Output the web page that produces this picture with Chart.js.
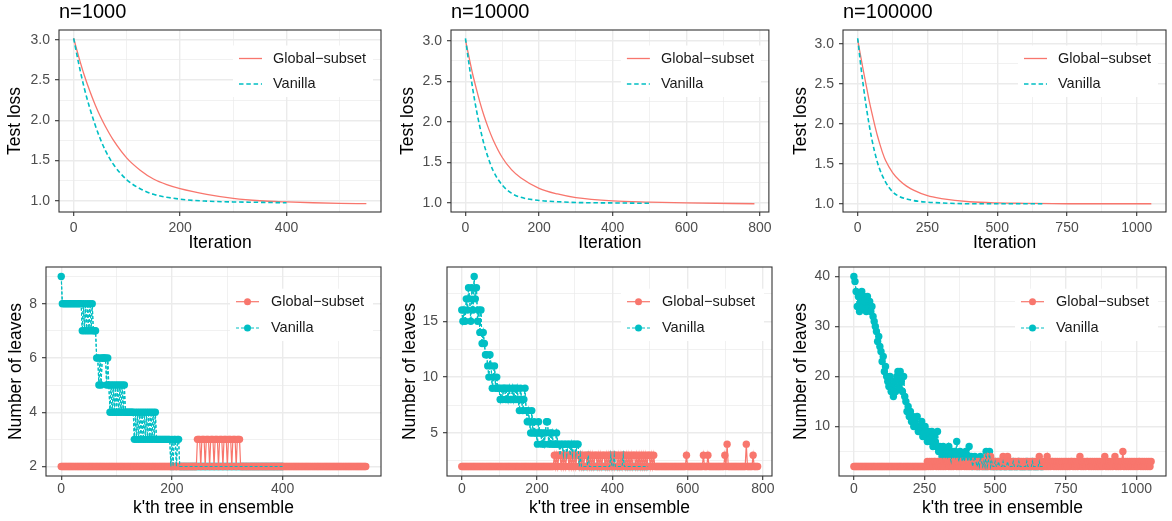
<!DOCTYPE html>
<html lang="en">
<head>
<meta charset="UTF-8" />
<title>Global-subset vs Vanilla</title>
<script src="https://cdn.jsdelivr.net/npm/chart.js"></script>
<style>
  html, body { margin: 0; padding: 0; background: #fff; overflow: hidden; }
  #fig { position: relative; width: 1172px; height: 521px; }
  #fig canvas { position: absolute; }
</style>
</head>
<body>
<div id="fig">
  <canvas id="loss1000"></canvas>
  <canvas id="loss10000"></canvas>
  <canvas id="loss100000"></canvas>
  <canvas id="leaves1000"></canvas>
  <canvas id="leaves10000"></canvas>
  <canvas id="leaves100000"></canvas>
</div>
<script>
const SERIES = ["Global\u2212subset", "Vanilla"];
const TITLES = ["n=1000", "n=10000", "n=100000"];

// test loss (iteration -> loss)
const lossIter1000G = [0, 10, 20, 30, 40, 50, 60, 75, 100, 125, 150, 175, 200, 250, 300, 350, 400, 450, 500, 550];
const loss1000G = [3.02, 2.78, 2.56, 2.37, 2.20, 2.05, 1.92, 1.75, 1.53, 1.38, 1.27, 1.20, 1.15, 1.08, 1.03, 1.0, 0.985, 0.975, 0.968, 0.963];
const lossIter1000V = [0, 10, 20, 30, 40, 50, 60, 75, 100, 125, 150, 200, 250, 300, 350, 400];
const loss1000V = [3.02, 2.69, 2.40, 2.16, 1.95, 1.77, 1.62, 1.45, 1.26, 1.15, 1.08, 1.02, 0.995, 0.985, 0.98, 0.975];

const lossIter10000G = [0, 10, 20, 30, 40, 50, 60, 75, 100, 125, 150, 200, 250, 300, 400, 500, 600, 785];
const loss10000G = [3.01, 2.79, 2.58, 2.40, 2.23, 2.08, 1.95, 1.78, 1.56, 1.41, 1.31, 1.18, 1.11, 1.065, 1.025, 1.01, 1.0, 0.99];
const lossIter10000V = [0, 10, 20, 30, 40, 50, 60, 75, 100, 125, 150, 200, 250, 300, 400, 500];
const loss10000V = [3.03, 2.70, 2.40, 2.14, 1.92, 1.73, 1.58, 1.40, 1.22, 1.12, 1.07, 1.03, 1.015, 1.005, 1.0, 0.995];

const lossIter100000G = [0, 10, 20, 30, 40, 50, 60, 70, 80, 90, 100, 125, 150, 175, 200, 250, 300, 400, 500, 600, 750, 1052];
const loss100000G = [3.05, 2.86, 2.67, 2.49, 2.31, 2.15, 2.00, 1.86, 1.74, 1.63, 1.54, 1.39, 1.29, 1.22, 1.17, 1.10, 1.065, 1.025, 1.01, 1.005, 1.0, 1.0];
const lossIter100000V = [0, 10, 20, 30, 40, 50, 60, 75, 100, 125, 150, 200, 250, 300, 400, 665];
const loss100000V = [3.07, 2.76, 2.48, 2.23, 2.01, 1.82, 1.66, 1.47, 1.27, 1.15, 1.09, 1.04, 1.02, 1.01, 1.0, 1.0];

// number of leaves per tree, sampled every `step` trees (bottom row)
const leafStep1000 = 2;
const leaves1000G = `
2222222222 2222222222 2222222222 2222222222 2222222222 2222222222
2222222222 2222222222 2222222222 2222222222 2222222222 2222222222 222
3332333233 3233323332 3332333233 3233323332
2222222222 2222222222 2222222222 2222222222 2222222222 2222222222
2222222222 2222222222 2222222222 2222222222 2222222222 222`;
const leaves1000V = `
9 8888888888 88888888 7878787878 777 665656666565 4545454545454 54 4444444
3434343434 3434343434 3333333333 33 323233233
2222222222 2222222222 2222222222 2222222222 2222222222 2222222222
2222222222 2222222222 2222222222 2222`;

const leafStep10000 = 3;
const leaves10000G = `
2222222222 2222222222 2222222222 2222222222 2222222222 2222222222 2222222222 2222222222 22
3232332323 2332323232 3323232332 3232323323 2323323232 3232332323 2332323232 3323232323 232332323
2222222222 2222222222 2222222232 2222222222 2223222322 2222222222 2232422222 2222222222 2422222322 22`;
const leaves10000V = [
  16, 15, 16, 15, 17, 16, 18, 17, 15, 18,
  16, 19, 17, 18, 15, 16, 14, 16, 13, 14,
  13, 12, 12, 11, 10, 12, 11, 9, 10, 11,
  9, 10, 9, 9, 8, 9, 8, 9, 9, 8,
  9, 8, 9, 8, 8, 9, 8, 9, 8, 9,
  8, 7, 9, 8, 7, 8, 9, 7, 6, 7,
  6, 5, 7, 5, 6, 5, 5, 4, 6, 5,
  5, 4, 5, 4, 5, 6, 6, 4, 5, 4,
  5, 4, 4, 4, 5, 4, 4, 3, 4, 4,
  3, 4, 4, 3, 4, 4, 3, 4, 3, 4,
  4, 3, 4, 4, 2, 3, 2, 2, 2, 2,
  2, 2, 3, 2, 2, 2, 2, 2, 2, 2,
  2, 2, 2, 2, 2, 2, 2, 2, 2, 2,
  2, 2, 3, 2, 2, 3, 2, 2, 2, 2,
  2, 2, 2, 3, 2, 2, 2, 2, 2, 2,
  2, 2, 2, 2, 2, 2, 2, 2, 2, 2,
  2, 2, 2, 2, 2, 2
];

const leafStep100000 = 4;
const leaves100000G = `
2222222222 2222222222 2222222222 2222222222 2222222222 2222222222 22222
3232323323 2323232332 3232332323 2332323232 3323232323 2324234232 3232323423 2432323232
3323232323 2323232324 3232324232 3323232323 2323232332 3232342323 2332323232 3232323423
2323234232 3235232323 2323232332 323232323`;
const leaves100000V = [
  40, 39, 37, 34, 36, 33, 35, 37, 34, 36,
  35, 33, 36, 34, 35, 33, 34, 32, 31, 30,
  29, 27, 28, 26, 25, 23, 24, 21, 22, 20,
  19, 18, 20, 17, 18, 16, 19, 17, 20, 21,
  18, 21, 19, 17, 20, 16, 15, 13, 14, 12,
  13, 11, 12, 10, 11, 10, 12, 9, 10, 9,
  11, 8, 9, 10, 8, 7, 9, 8, 7, 9,
  6, 8, 7, 6, 9, 5, 6, 5, 4, 6,
  5, 4, 5, 4, 6, 4, 3, 5, 4, 5,
  4, 7, 4, 3, 5, 4, 3, 4, 3, 5,
  4, 3, 6, 3, 4, 2, 3, 4, 3, 2,
  3, 2, 4, 3, 2, 3, 2, 5, 2, 3,
  5, 2, 3, 2, 2, 3, 2, 2, 3, 2,
  2, 2, 3, 2, 2, 2, 3, 2, 2, 2,
  2, 3, 2, 2, 2, 2, 3, 2, 2, 2,
  2, 2, 2, 3, 2, 2, 2, 2, 3, 2,
  2, 2, 2, 2, 3, 2, 2, 2
];

// axis breaks (all = grid lines, major = labelled)
const xTicks1000 = [0, 100, 200, 300, 400, 500], xMajor1000 = [0, 200, 400];
const xTicks10000 = [0, 100, 200, 300, 400, 500, 600, 700, 800], xMajor10000 = [0, 200, 400, 600, 800];
const xTicks100000 = [0, 125, 250, 375, 500, 625, 750, 875, 1000], xMajor100000 = [0, 250, 500, 750, 1000];
const yTicksLoss = [1, 1.25, 1.5, 1.75, 2, 2.25, 2.5, 2.75, 3], yMajorLoss = [1, 1.5, 2, 2.5, 3];
const yTicksLeaves1000 = [2, 3, 4, 5, 6, 7, 8, 9], yMajorLeaves1000 = [2, 4, 6, 8];
const yTicksLeaves10000 = [2.5, 5, 7.5, 10, 12.5, 15, 17.5], yMajorLeaves10000 = [5, 10, 15];
const yTicksLeaves100000 = [5, 10, 15, 20, 25, 30, 35, 40], yMajorLeaves100000 = [10, 20, 30, 40];

const RED = "#F8766D", TEAL = "#00BFC4";
const FONT = "'Liberation Sans', Arial, Helvetica, sans-serif";

const digits = s => s.replace(/\s+/g, "").split("").map(Number);
const pts = (xs, ys) => ys.map((y, i) => ({ x: xs[i], y }));
const stepPts = (vals, step) => vals.map((y, i) => ({ x: i * step, y }));

// panel border, inside legend and panel title
const ggPanel = {
  id: "ggPanel",
  afterDraw(chart, args, o) {
    const { ctx, chartArea: a } = chart;
    const L = o.legend;
    ctx.save();
    ctx.fillStyle = "#fff";
    ctx.fillRect(a.right - L.boxFrom, a.top + L.rows[0] - 13, L.boxFrom - L.boxTo, L.rows[1] - L.rows[0] + 26);
    o.items.forEach((it, k) => {
      const y = a.top + L.rows[k];
      ctx.strokeStyle = it.color;
      ctx.lineWidth = it.width;
      ctx.setLineDash(it.dash);
      ctx.beginPath();
      ctx.moveTo(a.right - L.lineFrom, y);
      ctx.lineTo(a.right - L.lineTo, y);
      ctx.stroke();
      ctx.setLineDash([]);
      if (L.points) {
        ctx.fillStyle = it.color;
        ctx.beginPath();
        ctx.arc(a.right - (L.lineFrom + L.lineTo) / 2, y, 3.5, 0, Math.PI * 2);
        ctx.fill();
      }
      ctx.fillStyle = "#1a1a1a";
      ctx.font = "14.5px " + FONT;
      ctx.textAlign = "left";
      ctx.textBaseline = "middle";
      ctx.fillText(it.label, a.right - L.textAt, y);
    });
    ctx.strokeStyle = "#333333";
    ctx.lineWidth = 1.1;
    ctx.strokeRect(a.left, a.top, a.right - a.left, a.bottom - a.top);
    if (o.title) {
      ctx.fillStyle = "#000";
      ctx.font = "20px " + FONT;
      ctx.textAlign = "left";
      ctx.textBaseline = "middle";
      ctx.fillText(o.title, a.left, 12.5);
    }
    ctx.restore();
  }
};
Chart.register(ggPanel);

function axis(isX, s) {
  const major = c => c.tick && s.major.includes(c.tick.value);
  return {
    type: "linear",
    min: s.min,
    max: s.max,
    afterFit: sc => { if (isX) sc.height = s.size; else sc.width = s.size; },
    afterBuildTicks: sc => { sc.ticks = s.ticks.map(v => ({ value: v })); },
    ticks: {
      autoSkip: false, maxRotation: 0, minRotation: 0,
      color: "#4d4d4d",
      font: { family: FONT, size: 14 },
      padding: s.tickPad,
      callback: v => s.major.includes(v) ? s.fmt(v) : ""
    },
    grid: {
      color: "#ebebeb",
      lineWidth: c => major(c) ? 1.4 : 0.7,
      tickLength: 4,
      tickWidth: 1.1,
      tickColor: c => major(c) ? "#333333" : "rgba(0,0,0,0)"
    },
    border: { display: false },
    title: {
      display: true, text: s.title, color: "#000",
      font: { family: FONT, size: 17.5 },
      padding: isX ? { top: 0, bottom: s.titlePad } : { top: s.titlePad, bottom: 0 }
    }
  };
}

const lineItems = [
  { label: SERIES[0], color: RED, width: 1.3, dash: [] },
  { label: SERIES[1], color: TEAL, width: 1.6, dash: [4.5, 2.8] }
];
const pointItems = [
  { label: SERIES[0], color: RED, width: 1.2, dash: [] },
  { label: SERIES[1], color: TEAL, width: 1.1, dash: [3, 2] }
];
const topLegend = { rows: [28.5, 54], lineFrom: 142, lineTo: 119, textAt: 108, boxFrom: 148, boxTo: 8, points: false };
const bottomLegend = { rows: [34.7, 61], lineFrom: 145, lineTo: 122, textAt: 110, boxFrom: 151, boxTo: 8, points: true };

function panel(id, box, padTop, datasets, x, y, extra) {
  const cv = document.getElementById(id);
  cv.width = box[2];
  cv.height = box[3];
  cv.style.left = box[0] + "px";
  cv.style.top = box[1] + "px";
  return new Chart(cv, {
    type: "line",
    data: { datasets },
    options: {
      responsive: false,
      animation: false,
      events: [],
      layout: { padding: { top: padTop, right: 6, left: 0, bottom: 0 } },
      plugins: { legend: { display: false }, tooltip: { enabled: false }, ggPanel: extra },
      scales: { x: axis(true, x), y: axis(false, y) }
    }
  });
}

function lossSets(xg, g, xv, v) {
  return [
    { label: SERIES[0], data: pts(xg, g), borderColor: RED, borderWidth: 1.3, pointRadius: 0, cubicInterpolationMode: "monotone", order: 2 },
    { label: SERIES[1], data: pts(xv, v), borderColor: TEAL, borderWidth: 1.6, borderDash: [4.5, 2.8], pointRadius: 0, cubicInterpolationMode: "monotone", order: 1 }
  ];
}
function leafSets(g, v, step) {
  const gp = stepPts(g, step), vp = stepPts(v, step);
  return [
    { label: SERIES[1], data: vp, borderColor: TEAL, borderWidth: 1.1, borderDash: [3, 2], pointRadius: 3.7, pointBackgroundColor: TEAL, pointBorderWidth: 0, order: 3 },
    { label: SERIES[0], data: gp, borderColor: RED, borderWidth: 1.2, pointRadius: 3.7, pointBackgroundColor: RED, pointBorderWidth: 0, order: 2 },
    { label: SERIES[1], data: vp, borderColor: TEAL, borderWidth: 1.1, borderDash: [3, 2], pointRadius: 0, order: 1 }
  ];
}

const f1 = v => v.toFixed(1), f0 = v => String(v);
const xTop = { size: 44, tickPad: 4.2, title: "Iteration", titlePad: 2.2 };
const xBot = { size: 45, tickPad: 1, title: "k'th tree in ensemble", titlePad: 2.2 };

// top row: test loss
panel("loss1000", [0, 0, 387, 256], 30, lossSets(lossIter1000G, loss1000G, lossIter1000V, loss1000V),
  { ...xTop, min: -27.5, max: 577.5, ticks: xTicks1000, major: xMajor1000, fmt: f0 },
  { min: 0.86, max: 3.123, ticks: yTicksLoss, major: yMajorLoss, fmt: f1, size: 59, tickPad: 5, title: "Test loss", titlePad: 4.5 },
  { title: TITLES[0], legend: topLegend, items: lineItems });
panel("loss10000", [390, 0, 386, 256], 30, lossSets(lossIter10000G, loss10000G, lossIter10000V, loss10000V),
  { ...xTop, min: -39.25, max: 824.25, ticks: xTicks10000, major: xMajor10000, fmt: f0 },
  { min: 0.888, max: 3.132, ticks: yTicksLoss, major: yMajorLoss, fmt: f1, size: 61, tickPad: 5, title: "Test loss", titlePad: 7.8 },
  { title: TITLES[1], legend: topLegend, items: lineItems });
panel("loss100000", [780, 0, 392, 256], 30, lossSets(lossIter100000G, loss100000G, lossIter100000V, loss100000V),
  { ...xTop, min: -52.6, max: 1104.6, ticks: xTicks100000, major: xMajor100000, fmt: f0 },
  { min: 0.8965, max: 3.1735, ticks: yTicksLoss, major: yMajorLoss, fmt: f1, size: 63, tickPad: 5, title: "Test loss", titlePad: 10.2 },
  { title: TITLES[2], legend: topLegend, items: lineItems });

// bottom row: number of leaves
panel("leaves1000", [0, 240, 387, 281], 27, leafSets(digits(leaves1000G), digits(leaves1000V), leafStep1000),
  { ...xBot, min: -27.5, max: 577.5, ticks: xTicks1000, major: xMajor1000, fmt: f0 },
  { min: 1.65, max: 9.35, ticks: yTicksLeaves1000, major: yMajorLeaves1000, fmt: f0, size: 46, tickPad: 5, title: "Number of leaves", titlePad: 5.5 },
  { legend: bottomLegend, items: pointItems });
panel("leaves10000", [390, 240, 388, 281], 27, leafSets(digits(leaves10000G), leaves10000V, leafStep10000),
  { ...xBot, min: -39.25, max: 824.25, ticks: xTicks10000, major: xMajor10000, fmt: f0 },
  { min: 1.15, max: 19.85, ticks: yTicksLeaves10000, major: yMajorLeaves10000, fmt: f0, size: 57, tickPad: 5, title: "Number of leaves", titlePad: 9.5 },
  { legend: bottomLegend, items: pointItems });
panel("leaves100000", [780, 240, 392, 281], 27, leafSets(digits(leaves100000G), leaves100000V, leafStep100000),
  { ...xBot, min: -52.6, max: 1104.6, ticks: xTicks100000, major: xMajor100000, fmt: f0 },
  { min: 0.1, max: 41.9, ticks: yTicksLeaves100000, major: yMajorLeaves100000, fmt: f0, size: 59, tickPad: 5, title: "Number of leaves", titlePad: 10.2 },
  { legend: bottomLegend, items: pointItems });
</script>
</body>
</html>
